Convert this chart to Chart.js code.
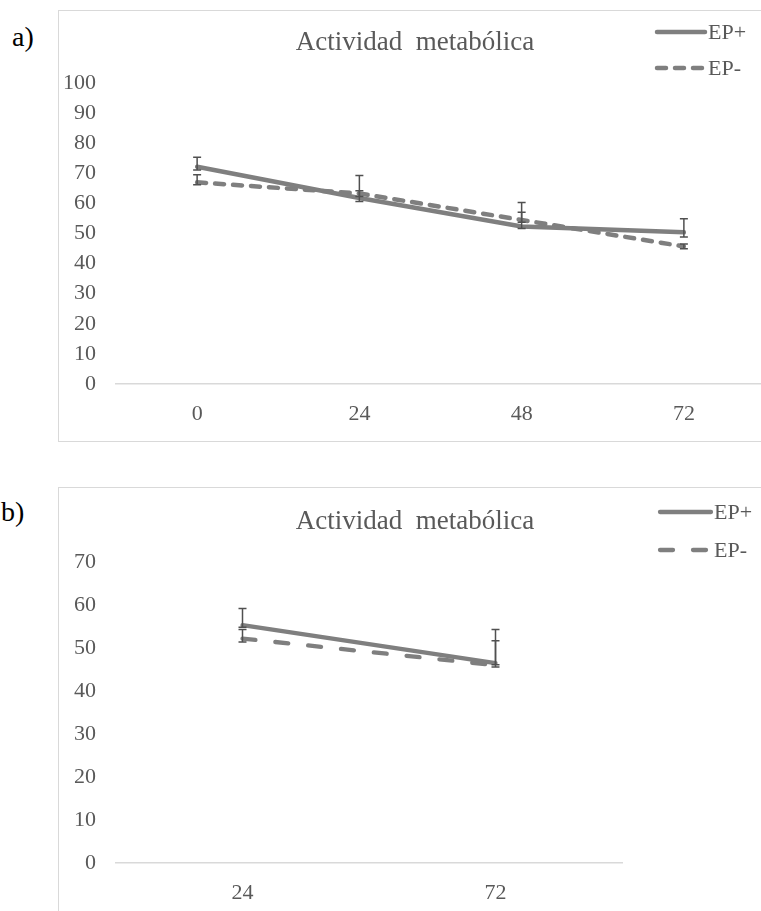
<!DOCTYPE html>
<html>
<head>
<meta charset="utf-8">
<script src="https://cdn.jsdelivr.net/npm/chart.js@4.4.1/dist/chart.umd.min.js"></script>
<style>
  html, body { margin: 0; padding: 0; background: #fff; width: 761px; height: 911px; overflow: hidden; }
  .frame { position: absolute; border: 1px solid #d9d9d9; }
  canvas { position: absolute; }
  .tag { position: absolute; font-family: 'Liberation Serif', serif; font-size: 28px; color: #000; line-height: 1; }
</style>
</head>
<body>
<div class="tag" style="left:12px;top:23px">a)</div>
<div class="frame" style="left:58px;top:10px;width:760px;height:430px"></div>
<canvas id="chartA" width="720" height="431" style="left:58px;top:10px"></canvas>

<div class="tag" style="left:1px;top:498px">b)</div>
<div class="frame" style="left:58px;top:487px;width:760px;height:500px"></div>
<canvas id="chartB" width="720" height="424" style="left:58px;top:487px"></canvas>

<script>
// panel a) - hours 0..72
const hoursA = ['0', '24', '48', '72'];
const epPlusA = [72.2, 61.8, 52.3, 50.4];
const epPlusUpA = [3.1, 2.4, 4.8, 4.5];
const epPlusDownA = [1.1, 1.2, 0.6, 1.6];
const epMinusA = [67.0, 63.3, 54.5, 45.7];
const epMinusUpA = [2.5, 6.0, 5.8, 0.8];
const epMinusDownA = [0.8, 1.0, 0.8, 0.8];

// panel b) - hours 24 and 72
const hoursB = ['24', '72'];
const epPlusB = [55.3, 46.5];
const epPlusUpB = [3.9, 7.8];
const epPlusDownB = [0.5, 0.4];
const epMinusB = [52.2, 46.0];
const epMinusUpB = [2.1, 5.7];
const epMinusDownB = [0.8, 0.4];

const chartTitle = 'Actividad  metabólica';
const seriesNames = ['EP+', 'EP-'];

const GREY = '#7f7f7f';
const TEXT = '#595959';
const SERIF = "'Liberation Serif', 'Times New Roman', serif";

// error bars + title + hand-drawn legend (line samples need the dash pattern)
const decor = {
    id: 'decor',
    afterDatasetsDraw(chart) {
        const ctx = chart.ctx;
        const y = chart.scales.y;
        ctx.save();
        ctx.strokeStyle = '#505050';
        ctx.lineWidth = 1.5;
        chart.data.datasets.forEach((ds, i) => {
            chart.getDatasetMeta(i).data.forEach((pt, j) => {
                const v = ds.data[j];
                const top = y.getPixelForValue(v + ds.errUp[j]);
                const bot = y.getPixelForValue(v - ds.errDown[j]);
                ctx.beginPath();
                ctx.moveTo(pt.x, top); ctx.lineTo(pt.x, bot);
                ctx.moveTo(pt.x - 4, top); ctx.lineTo(pt.x + 4, top);
                ctx.moveTo(pt.x - 4, bot); ctx.lineTo(pt.x + 4, bot);
                ctx.stroke();
            });
        });
        ctx.restore();
    },
    afterDraw(chart, args, opts) {
        const ctx = chart.ctx;
        ctx.save();
        ctx.fillStyle = TEXT;
        ctx.font = '27px ' + SERIF;
        ctx.textAlign = 'center';
        ctx.textBaseline = 'middle';
        ctx.fillText(opts.title, opts.titleX, opts.titleY);

        ctx.font = '22px ' + SERIF;
        ctx.textAlign = 'left';
        chart.data.datasets.forEach((ds, i) => {
            const ly = opts.legendY[i];
            ctx.strokeStyle = ds.borderColor;
            ctx.lineWidth = ds.borderWidth;
            ctx.lineCap = 'round';
            ctx.setLineDash(ds.borderDash || []);
            ctx.beginPath();
            ctx.moveTo(opts.legendX0, ly);
            ctx.lineTo(opts.legendX1, ly);
            ctx.stroke();
            ctx.setLineDash([]);
            ctx.fillText(ds.label, opts.legendX1 + 3, ly + 1);
        });
        ctx.restore();
    }
};

function makeChart(id, labels, plus, plusUp, plusDown, minus, minusUp, minusDown, cfg) {
    return new Chart(document.getElementById(id), {
        type: 'line',
        data: {
            labels: labels,
            datasets: [
                {
                    label: seriesNames[0], data: plus, errUp: plusUp, errDown: plusDown,
                    borderColor: GREY, borderWidth: cfg.lineWidth, pointRadius: 0, tension: 0,
                    borderCapStyle: 'round'
                },
                {
                    label: seriesNames[1], data: minus, errUp: minusUp, errDown: minusDown,
                    borderColor: GREY, borderWidth: cfg.lineWidth, borderDash: cfg.dash,
                    borderCapStyle: 'round', pointRadius: 0, tension: 0
                }
            ]
        },
        options: {
            responsive: false,
            animation: false,
            layout: { padding: { top: cfg.top, right: cfg.right, left: 0, bottom: 0 } },
            plugins: {
                legend: { display: false },
                title: { display: false },
                tooltip: { enabled: false },
                decor: {
                    title: chartTitle,
                    titleX: 357, titleY: cfg.titleY,
                    legendX0: cfg.legendX0, legendX1: cfg.legendX1, legendY: cfg.legendY
                }
            },
            scales: {
                x: {
                    offset: true,
                    grid: { display: false, drawTicks: false },
                    border: { display: true, color: '#d9d9d9', width: 1.5 },
                    ticks: { color: TEXT, font: { family: SERIF, size: 22 }, padding: 17 },
                    afterFit: s => { s.height = cfg.xHeight; }
                },
                y: {
                    min: 0, max: cfg.max,
                    grid: { display: false, drawTicks: false },
                    border: { display: false },
                    ticks: { stepSize: 10, color: TEXT, font: { family: SERIF, size: 22 }, padding: 20 },
                    afterFit: s => { s.width = 58; }
                }
            }
        },
        plugins: [decor]
    });
}

makeChart('chartA', hoursA, epPlusA, epPlusUpA, epPlusDownA, epMinusA, epMinusUpA, epMinusDownA, {
    max: 100, top: 73, right: 13, xHeight: 57, lineWidth: 4.5, dash: [9, 9],
    titleY: 33, legendX0: 599, legendX1: 647, legendY: [22, 58]
});

makeChart('chartB', hoursB, epPlusB, epPlusUpB, epPlusDownB, epMinusB, epMinusUpB, epMinusDownB, {
    max: 70, top: 75, right: 156, xHeight: 48, lineWidth: 4.3, dash: [13, 20],
    titleY: 35, legendX0: 602, legendX1: 653, legendY: [25, 63]
});
</script>
</body>
</html>
